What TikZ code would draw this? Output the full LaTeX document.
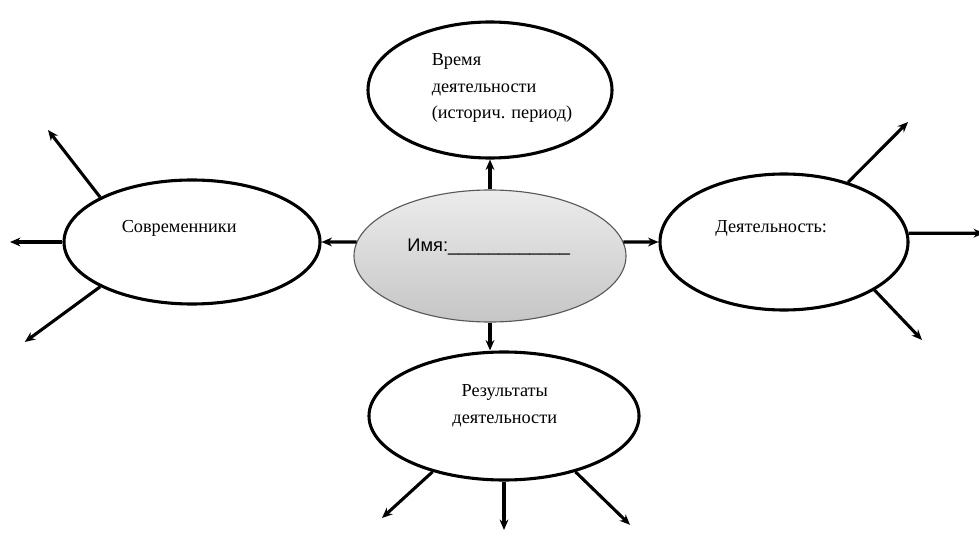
\documentclass[tikz,border=0pt]{standalone}
\usepackage{fontspec}
\setmainfont{Liberation Serif}
\setsansfont{Liberation Sans}
\usetikzlibrary{shapes.geometric, arrows.meta}

\begin{document}
\begin{tikzpicture}[>={Stealth[length=2.6mm, width=2.2mm]}, line width=2.2pt,
		oval/.style={draw, ellipse, fill=white, inner sep=0pt},
		txt/.style={font=\fontsize{13}{19}\selectfont, inner sep=0pt}]
	
	\useasboundingbox (0,0) rectangle (24.475,-13.4);
	
	% ellipses
	\node[oval, minimum width=6.1cm, minimum height=3.4cm] (time) at (12.25,-2.25) {};
	\node[oval, minimum width=6.4cm, minimum height=3.1cm] (contemp) at (4.8,-6.05) {};
	\node[oval, minimum width=6.2cm, minimum height=3.4cm] (activity) at (19.6,-6.05) {};
	\node[oval, minimum width=6.75cm, minimum height=3.2cm] (result) at (12.6,-10.4) {};
	\node[draw=gray!70!black, ellipse, line width=0.8pt, top color=gray!15, bottom color=gray!45,
		minimum width=6.8cm, minimum height=3.3cm, inner sep=0pt] (name) at (12.25,-6.4) {};
	
	% texts
	\node[txt, align=left] (timeT) at (12.55,-2.2) {Время\\деятельности\\(историч. период)};
	\node[txt] (contempT) at (4.48,-5.7) {Современники};
	\node[txt] (activityT) at (19.28,-5.7) {Деятельность:};
	\node[txt, align=center] (resultT) at (12.62,-10.15) {Результаты\\деятельности};
	\node[txt, font=\sffamily\fontsize{13}{15}\selectfont] (nameT) at (12.22,-6.18)
		{Имя:\_\_\_\_\_\_\_\_\_\_\_\_};
	
	% from the centre
	\draw[->] (name.north) -- (time.south);
	\draw[->] (name.174) -- (contemp.east);
	\draw[->] (name.6) -- (activity.west);
	\draw[->] (name.south) -- (name.south |- result.north);
	
	% free ends
	\coordinate (l1) at (1.2,-3.25);
	\coordinate (l2) at (0.25,-6.05);
	\coordinate (l3) at (0.62,-8.55);
	\coordinate (r1) at (22.7,-3.05);
	\coordinate (r2) at (24.6,-5.83);
	\coordinate (r3) at (23.05,-8.5);
	\coordinate (b1) at (9.55,-12.95);
	\coordinate (b2) at (12.6,-13.25);
	\coordinate (b3) at (15.75,-13.12);
	
	\foreach \a/\p in {154/l1, 180/l2, 206/l3}
		\draw[->] (contemp.\a) -- (\p);
	\foreach \a/\p in {43/r1, 4/r2, 332/r3}
		\draw[->] (activity.\a) -- (\p);
	\foreach \a/\p in {218/b1, 270/b2, 322/b3}
		\draw[->] (result.\a) -- (\p);
	
\end{tikzpicture}
\end{document}
